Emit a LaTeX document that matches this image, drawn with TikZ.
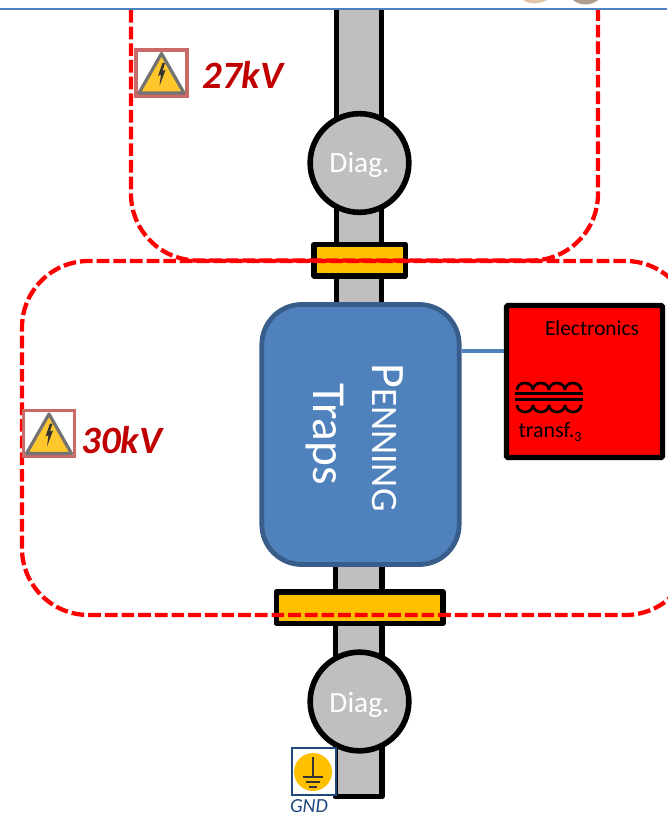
\documentclass[tikz,border=0pt]{standalone}
\usepackage{fontspec}
\setmainfont{Carlito}
\definecolor{pipegray}{HTML}{BFBFBF}
\definecolor{flangeyel}{HTML}{FFC000}
\definecolor{trapblue}{HTML}{4F81BD}
\definecolor{trapedge}{HTML}{385D8A}
\definecolor{kvred}{HTML}{C00000}
\definecolor{gndblue}{HTML}{1F497D}
\definecolor{warnedge}{HTML}{C0504D}
\definecolor{warnyel}{HTML}{FFC72C}
\tikzset{
  pipe/.style={draw=black,fill=pipegray,line width=4pt,rectangle,inner sep=0pt,line join=round},
  flange/.style={draw=black,fill=flangeyel,line width=4pt,rectangle,inner sep=0pt,line join=round},
  diag/.style={draw=black,fill=pipegray,line width=4.2pt,circle,inner sep=0pt,minimum size=74pt},
  diagtext/.style={text=white,font=\fontsize{22}{26}\selectfont,inner sep=0pt,anchor=base},
  zone/.style={draw=red,line width=3.2pt,dash pattern=on 9.5pt off 3pt,rounded corners=50pt},
  kv/.style={text=kvred,font=\fontsize{29}{32}\selectfont\bfseries\itshape,inner sep=0pt},
  warnsign/.pic={
    \draw[warnedge!85!white,line width=2.4pt,fill=white] (-25.5,-23) rectangle (25.5,23);
    \draw[draw=black!55,fill=warnyel,line width=2.4pt,line join=round] (0,-19.5) -- (22.5,20) -- (-22.5,20) -- cycle;
    \fill[black!80] (1,-10) -- (-3.5,3) -- (-0.5,1.5) -- (-2,13) -- (4,-3) -- (1,-2) -- (3.5,-10) -- cycle;
  }
}
\begin{document}
\begin{tikzpicture}[x=0.75pt,y=-0.75pt]
\useasboundingbox (0,0) rectangle (667,816);
\fill[white] (0,0) rectangle (667,816);
% scraps of pictures above the line
\fill[brown!45!white] (523,0) .. controls (529,4.5) and (540,4.5) .. (547,0) -- cycle;
\fill[black!50!brown!50!white] (573,0) .. controls (580,6) and (591,6) .. (598,0) -- cycle;
% upper beam pipe (open at the top)
\fill[pipegray] (336.5,10) rectangle (381.5,305);
\draw[black,line width=4pt] (336.5,10) -- (336.5,305) -- (381.5,305) -- (381.5,10);
% lower beam pipe
\node[pipe,minimum width=35pt,minimum height=175pt] (lowpipe) at (358.5,680) {};
% diagnostics
\node[diag] (diagtop) at (359.5,163) {};
\node[diag] (diagbot) at (359.5,701.5) {};
\node[diagtext] (diagtoptxt) at (359.5,173) {Diag.};
\node[diagtext] (diagbottxt) at (359.5,712) {Diag.};
% flanges
\node[flange,minimum width=68.5pt,minimum height=23.5pt] (flangetop) at (359.8,260.2) {};
\node[flange,minimum width=125pt,minimum height=23.5pt] (flangebot) at (359.5,607.5) {};
% traps
\node[draw=trapedge,fill=trapblue,line width=3.6pt,rectangle,rounded corners=30pt,inner sep=0pt,minimum width=148pt,minimum height=195pt] (traps) at (360.5,434.5) {};
\node[rotate=-90,text=white,anchor=base west,inner sep=0pt] (penning) at (372,363) {\fontsize{36}{38}\selectfont P\fontsize{28}{38}\selectfont ENNING};
\node[rotate=-90,text=white,anchor=base west,font=\fontsize{35.5}{38}\selectfont,inner sep=0pt] (trapstxt) at (313,383) {Traps};
% electronics
\node[draw=black,fill=red,line width=4pt,rectangle,rounded corners=1pt,inner sep=0pt,minimum width=117pt,minimum height=114pt] (elec) at (584.5,381.5) {};
\draw[trapblue,line width=3.6pt] (traps.east |- 0,351) -- (elec.west |- 0,351);
\node[text=black,font=\fontsize{16}{18}\selectfont,inner sep=0pt] (electxt) at (592,328) {Electronics};
\node[text=black,font=\fontsize{16.5}{18}\selectfont,inner sep=0pt] (transftxt) at (550,432) {transf.\raisebox{-2.5pt}{\fontsize{10.5}{11}\selectfont\upshape 3}};
% transformer symbol
\foreach \cx in {525,541,557,573}{
  \draw[black,line width=2pt] (\cx-8,390) arc[start angle=180,end angle=360,x radius=8,y radius=7];
  \draw[black,line width=2pt] (\cx-8,405) arc[start angle=180,end angle=0,x radius=8,y radius=7];
}
\draw[black,line width=1.6pt] (515,393.5) -- (583,393.5);
\draw[black,line width=1.6pt] (515,399.5) -- (583,399.5);
% voltage zones
\draw[zone] (131,10) -- (131,260.5) -- (598,260.5) -- (598,10);
\draw[zone] (22,615) rectangle (692,261);
% warning signs
\pic at (161.5,73) {warnsign};
\pic at (49,433.5) {warnsign};
\node[kv] (kvtop) at (243,75) {27kV};
\node[kv] (kvbot) at (122,440) {30kV};
% ground
\node[draw=gndblue,fill=white,line width=1.9pt,rectangle,inner sep=0pt,minimum width=33pt,minimum height=35pt] (gndbox) at (314,771.5) {};
\fill[flangeyel] (313,772) circle[radius=19];
\draw[black!80,line width=1pt] (313,757) -- (313,777);
\draw[black!80,line width=1pt] (303,777) -- (323,777);
\draw[black!80,line width=1pt] (306,782) -- (320,782);
\draw[black!80,line width=1pt] (309,787) -- (317,787);
\node[text=gndblue,font=\fontsize{15}{16}\selectfont\itshape,inner sep=0pt,anchor=base] (gndtxt) at (309,812.5) {GND};
% top rule
\draw[trapblue,line width=2.2pt] (0,9) -- (667,9);
\end{tikzpicture}
\end{document}
